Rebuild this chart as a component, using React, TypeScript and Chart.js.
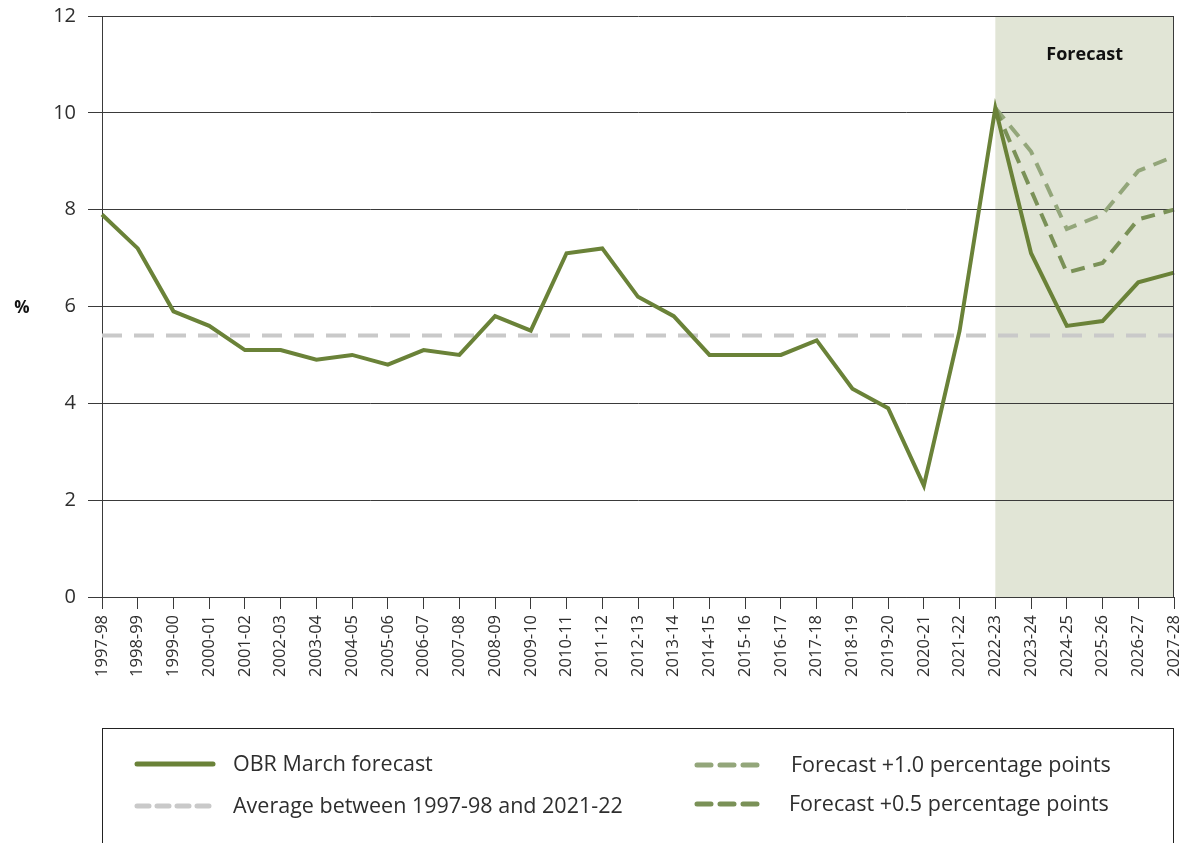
import React, { useEffect, useRef } from 'react';
import { Chart, registerables } from 'chart.js';

Chart.register(...registerables);

const categories = [
  '1997-98', '1998-99', '1999-00', '2000-01', '2001-02', '2002-03', '2003-04', '2004-05',
  '2005-06', '2006-07', '2007-08', '2008-09', '2009-10', '2010-11', '2011-12', '2012-13',
  '2013-14', '2014-15', '2015-16', '2016-17', '2017-18', '2018-19', '2019-20', '2020-21',
  '2021-22', '2022-23', '2023-24', '2024-25', '2025-26', '2026-27', '2027-28',
];

const obrMarch = [
  7.9, 7.2, 5.9, 5.6, 5.1, 5.1, 4.9, 5.0, 4.8, 5.1, 5.0, 5.8, 5.5, 7.1, 7.2, 6.2,
  5.8, 5.0, 5.0, 5.0, 5.3, 4.3, 3.9, 2.3, 5.5, 10.1, 7.1, 5.6, 5.7, 6.5, 6.7,
];

const average = [
  5.4, 5.4, 5.4, 5.4, 5.4, 5.4, 5.4, 5.4, 5.4, 5.4, 5.4, 5.4, 5.4, 5.4, 5.4, 5.4,
  5.4, 5.4, 5.4, 5.4, 5.4, 5.4, 5.4, 5.4, 5.4, 5.4, 5.4, 5.4, 5.4, 5.4, 5.4,
];

const plusOne = [
  null, null, null, null, null, null, null, null, null, null, null, null, null, null, null, null,
  null, null, null, null, null, null, null, null, null, 10.1, 9.2, 7.6, 7.9, 8.8, 9.1,
];

const plusHalf = [
  null, null, null, null, null, null, null, null, null, null, null, null, null, null, null, null,
  null, null, null, null, null, null, null, null, null, 10.1, 8.4, 6.7, 6.9, 7.8, 8.0,
];

const yTicks = [0, 2, 4, 6, 8, 10, 12];
const forecastStart = '2022-23';

const FONT = "'Open Sans', 'Noto Sans', sans-serif";
const C_MAIN = '#6a8238';
const C_P1 = '#93a67a';
const C_P05 = '#7a9157';
const C_AVG = '#c9c9c9';
const C_GRID = '#3a3a3a';
const C_TEXT = '#2e2e2e';

const decor = {
  id: 'decor',
  beforeDraw(chart: any) {
    const { ctx, chartArea, scales } = chart;
    const x0 = scales.x.getPixelForValue(categories.indexOf(forecastStart));
    ctx.save();
    ctx.fillStyle = '#e1e5d6';
    ctx.fillRect(x0, chartArea.top, chartArea.right - x0, chartArea.bottom - chartArea.top);
    ctx.restore();
  },
  afterDraw(chart: any) {
    const { ctx, chartArea, scales } = chart;
    const x0 = scales.x.getPixelForValue(categories.indexOf(forecastStart));
    ctx.save();
    // right border
    ctx.strokeStyle = C_GRID;
    ctx.lineWidth = 1;
    ctx.beginPath();
    ctx.moveTo(Math.round(chartArea.right) - 0.5, chartArea.top);
    ctx.lineTo(Math.round(chartArea.right) - 0.5, chartArea.bottom);
    ctx.stroke();

    // Forecast label
    ctx.fillStyle = '#111';
    ctx.font = `bold 18px ${FONT}`;
    ctx.textAlign = 'center';
    ctx.textBaseline = 'middle';
    ctx.fillText('Forecast', (x0 + chartArea.right) / 2, 55);

    // % label
    ctx.font = `bold 17px ${FONT}`;
    ctx.fillText('%', 22, scales.y.getPixelForValue(6) + 2);

    // legend box
    ctx.strokeStyle = '#222';
    ctx.lineWidth = 1;
    ctx.strokeRect(102.5, 728.5, 1071, 200);

    const items = [
      { label: 'OBR March forecast', color: C_MAIN, dash: [], x: 137, len: 76, y: 764, tx: 233 },
      { label: 'Average between 1997-98 and 2021-22', color: C_AVG, dash: [12, 8], x: 137, len: 76, y: 806, tx: 233 },
      { label: 'Forecast +1.0 percentage points', color: C_P1, dash: [14, 9], x: 697, len: 68, y: 765, tx: 791 },
      { label: 'Forecast +0.5 percentage points', color: C_P05, dash: [14, 9], x: 697, len: 68, y: 804, tx: 789 },
    ];
    items.forEach((it) => {
      ctx.strokeStyle = it.color;
      ctx.lineWidth = 5;
      ctx.lineCap = 'round';
      ctx.setLineDash(it.dash);
      ctx.beginPath();
      ctx.moveTo(it.x, it.y);
      ctx.lineTo(it.x + it.len, it.y);
      ctx.stroke();
      ctx.setLineDash([]);
      ctx.fillStyle = C_TEXT;
      ctx.font = `21.5px ${FONT}`;
      ctx.textAlign = 'left';
      ctx.textBaseline = 'middle';
      ctx.fillText(it.label, it.tx, it.y + 1);
    });
    ctx.restore();
  },
};

export default function App() {
  const ref = useRef<HTMLCanvasElement>(null);

  useEffect(() => {
    const chart = new Chart(ref.current as HTMLCanvasElement, {
      type: 'line',
      data: {
        labels: categories,
        datasets: [
          {
            label: 'OBR March forecast',
            data: obrMarch,
            borderColor: C_MAIN,
            borderWidth: 4,
            pointRadius: 0,
            tension: 0,
            order: 0,
          },
          {
            label: 'Forecast +0.5 percentage points',
            data: plusHalf,
            borderColor: C_P05,
            borderWidth: 4,
            borderDash: [14, 9],
            pointRadius: 0,
            order: 1,
          },
          {
            label: 'Forecast +1.0 percentage points',
            data: plusOne,
            borderColor: C_P1,
            borderWidth: 4,
            borderDash: [14, 9],
            pointRadius: 0,
            order: 2,
          },
          {
            label: 'Average between 1997-98 and 2021-22',
            data: average,
            borderColor: C_AVG,
            borderWidth: 4,
            borderDash: [20, 12],
            pointRadius: 0,
            order: 3,
          },
        ],
      },
      options: {
        animation: false,
        responsive: false,
        maintainAspectRatio: false,
        layout: { padding: { left: 0, right: 12, top: 16, bottom: 0 } },
        plugins: { legend: { display: false }, tooltip: { enabled: false } },
        scales: {
          x: {
            offset: false,
            grid: {
              drawOnChartArea: false,
              drawTicks: true,
              tickLength: 12,
              color: C_GRID,
            },
            border: { display: true, color: C_GRID },
            ticks: {
              autoSkip: false,
              minRotation: 90,
              maxRotation: 90,
              padding: 6,
              color: C_TEXT,
              font: { family: FONT, size: 16.5 },
            },
            afterFit(scale: any) {
              scale.height = 246;
              scale.paddingLeft = 0;
              scale.paddingRight = 0;
            },
          },
          y: {
            min: 0,
            max: 12,
            afterBuildTicks(scale: any) {
              scale.ticks = yTicks.map((v) => ({ value: v }));
            },
            grid: {
              color: C_GRID,
              tickLength: 14,
            },
            border: { display: true, color: C_GRID },
            ticks: {
              padding: 12,
              color: C_TEXT,
              font: { family: FONT, size: 20 },
            },
            afterFit(scale: any) {
              scale.width = 102;
              scale.paddingTop = 0;
              scale.paddingBottom = 0;
            },
          },
        },
      },
      plugins: [decor],
    } as any);
    return () => chart.destroy();
  }, []);

  return (
    <div style={{ position: 'absolute', left: 0, top: 0, width: 1186, height: 843 }}>
      <canvas ref={ref} width={1186} height={843} style={{ width: 1186, height: 843 }} />
    </div>
  );
}
